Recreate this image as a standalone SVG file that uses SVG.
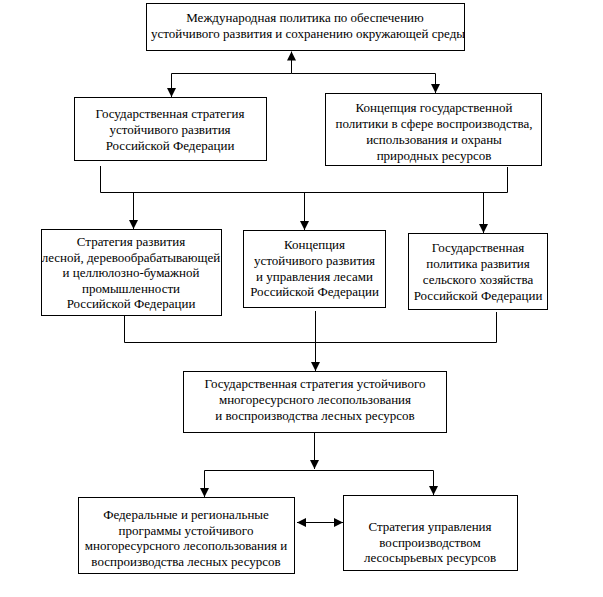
<svg xmlns="http://www.w3.org/2000/svg" width="603" height="597" viewBox="0 0 603 597">
<defs>
<style>
.box{fill:#fff;stroke:#000;stroke-width:1}
.t{font-family:"Liberation Serif","Times New Roman",serif;font-size:13px;fill:#000;text-anchor:middle}
.c{fill:none;stroke:#000;stroke-width:1}
.a{marker-end:url(#ah)}
</style>
<marker id="ah" markerUnits="userSpaceOnUse" markerWidth="9" markerHeight="9" refX="8" refY="4" orient="auto-start-reverse" viewBox="0 0 8 8">
<path d="M0,0 L8,4 L0,8 z" fill="#000"/>
</marker>
</defs>
<rect width="603" height="597" fill="#fff"/>
<g id="connectors">
<path class="c a" d="M291.5,73.5 V51.5"/>
<path class="c a" d="M291.5,73.5 H171.5 V97"/>
<path class="c a" d="M291.5,73.5 H435.5 V93"/>
<path class="c" d="M100.5,166 V192.5 H507.5 V167"/>
<path class="c a" d="M133.5,192.5 V229"/>
<path class="c a" d="M304.5,192.5 V230"/>
<path class="c a" d="M483.5,192.5 V233"/>
<path class="c" d="M124.5,316 V342.5 H496.5 V312"/>
<path class="c a" d="M315.5,311 V371"/>
<path class="c a" d="M314.5,433 V469"/>
<path class="c" d="M204.5,470.5 H433.5"/>
<path class="c a" d="M204.5,470.5 V497"/>
<path class="c a" d="M433.5,470.5 V495"/>
<path class="c" d="M297,522.5 H343" marker-start="url(#ah)" marker-end="url(#ah)"/>
</g>
<g id="n1">
<rect class="box" x="146.5" y="3.5" width="318" height="47"/>
<text class="t" x="305" y="22">Международная политика по обеспечению</text>
<text class="t" x="308" y="38">устойчивого развития и сохранению окружающей среды</text>
</g>
<g id="n2">
<rect class="box" x="74.5" y="97.5" width="192" height="63"/>
<text class="t" x="170" y="118">Государственная стратегия</text>
<text class="t" x="170" y="134">устойчивого развития</text>
<text class="t" x="170" y="150">Российской Федерации</text>
</g>
<g id="n3">
<rect class="box" x="325.5" y="93.5" width="216" height="72"/>
<text class="t" x="434" y="112">Концепция государственной</text>
<text class="t" x="434" y="128">политики в сфере воспроизводства,</text>
<text class="t" x="434" y="144">использования и охраны</text>
<text class="t" x="434" y="160">природных ресурсов</text>
</g>
<g id="n4">
<rect class="box" x="41.5" y="229.5" width="180" height="86"/>
<text class="t" x="131" y="246">Стратегия развития</text>
<text class="t" x="131" y="261.5">лесной, деревообрабатывающей</text>
<text class="t" x="131" y="277">и целлюлозно-бумажной</text>
<text class="t" x="131" y="292.5">промышленности</text>
<text class="t" x="131" y="308">Российской Федерации</text>
</g>
<g id="n5">
<rect class="box" x="243.5" y="230.5" width="142" height="77"/>
<text class="t" x="314.5" y="249">Концепция</text>
<text class="t" x="314.5" y="265">устойчивого развития</text>
<text class="t" x="314.5" y="281">и управления лесами</text>
<text class="t" x="314.5" y="296">Российской Федерации</text>
</g>
<g id="n6">
<rect class="box" x="408.5" y="233.5" width="139" height="76"/>
<text class="t" x="478" y="252">Государственная</text>
<text class="t" x="478" y="268">политика развития</text>
<text class="t" x="478" y="284">сельского хозяйства</text>
<text class="t" x="478" y="300">Российской Федерации</text>
</g>
<g id="n7">
<rect class="box" x="183.5" y="371.5" width="263" height="61"/>
<text class="t" x="315" y="388">Государственная стратегия устойчивого</text>
<text class="t" x="315" y="404">многоресурсного лесопользования</text>
<text class="t" x="315" y="420">и воспроизводства лесных ресурсов</text>
</g>
<g id="n8">
<rect class="box" x="78.5" y="497.5" width="216" height="76"/>
<text class="t" x="186" y="519">Федеральные и региональные</text>
<text class="t" x="186" y="535">программы устойчивого</text>
<text class="t" x="186" y="550">многоресурсного лесопользования и</text>
<text class="t" x="186" y="566">воспроизводства лесных ресурсов</text>
</g>
<g id="n9">
<rect class="box" x="343.5" y="495.5" width="174" height="75"/>
<text class="t" x="430" y="531">Стратегия управления</text>
<text class="t" x="430" y="547">воспроизводством</text>
<text class="t" x="430" y="562">лесосырьевых ресурсов</text>
</g>
</svg>
